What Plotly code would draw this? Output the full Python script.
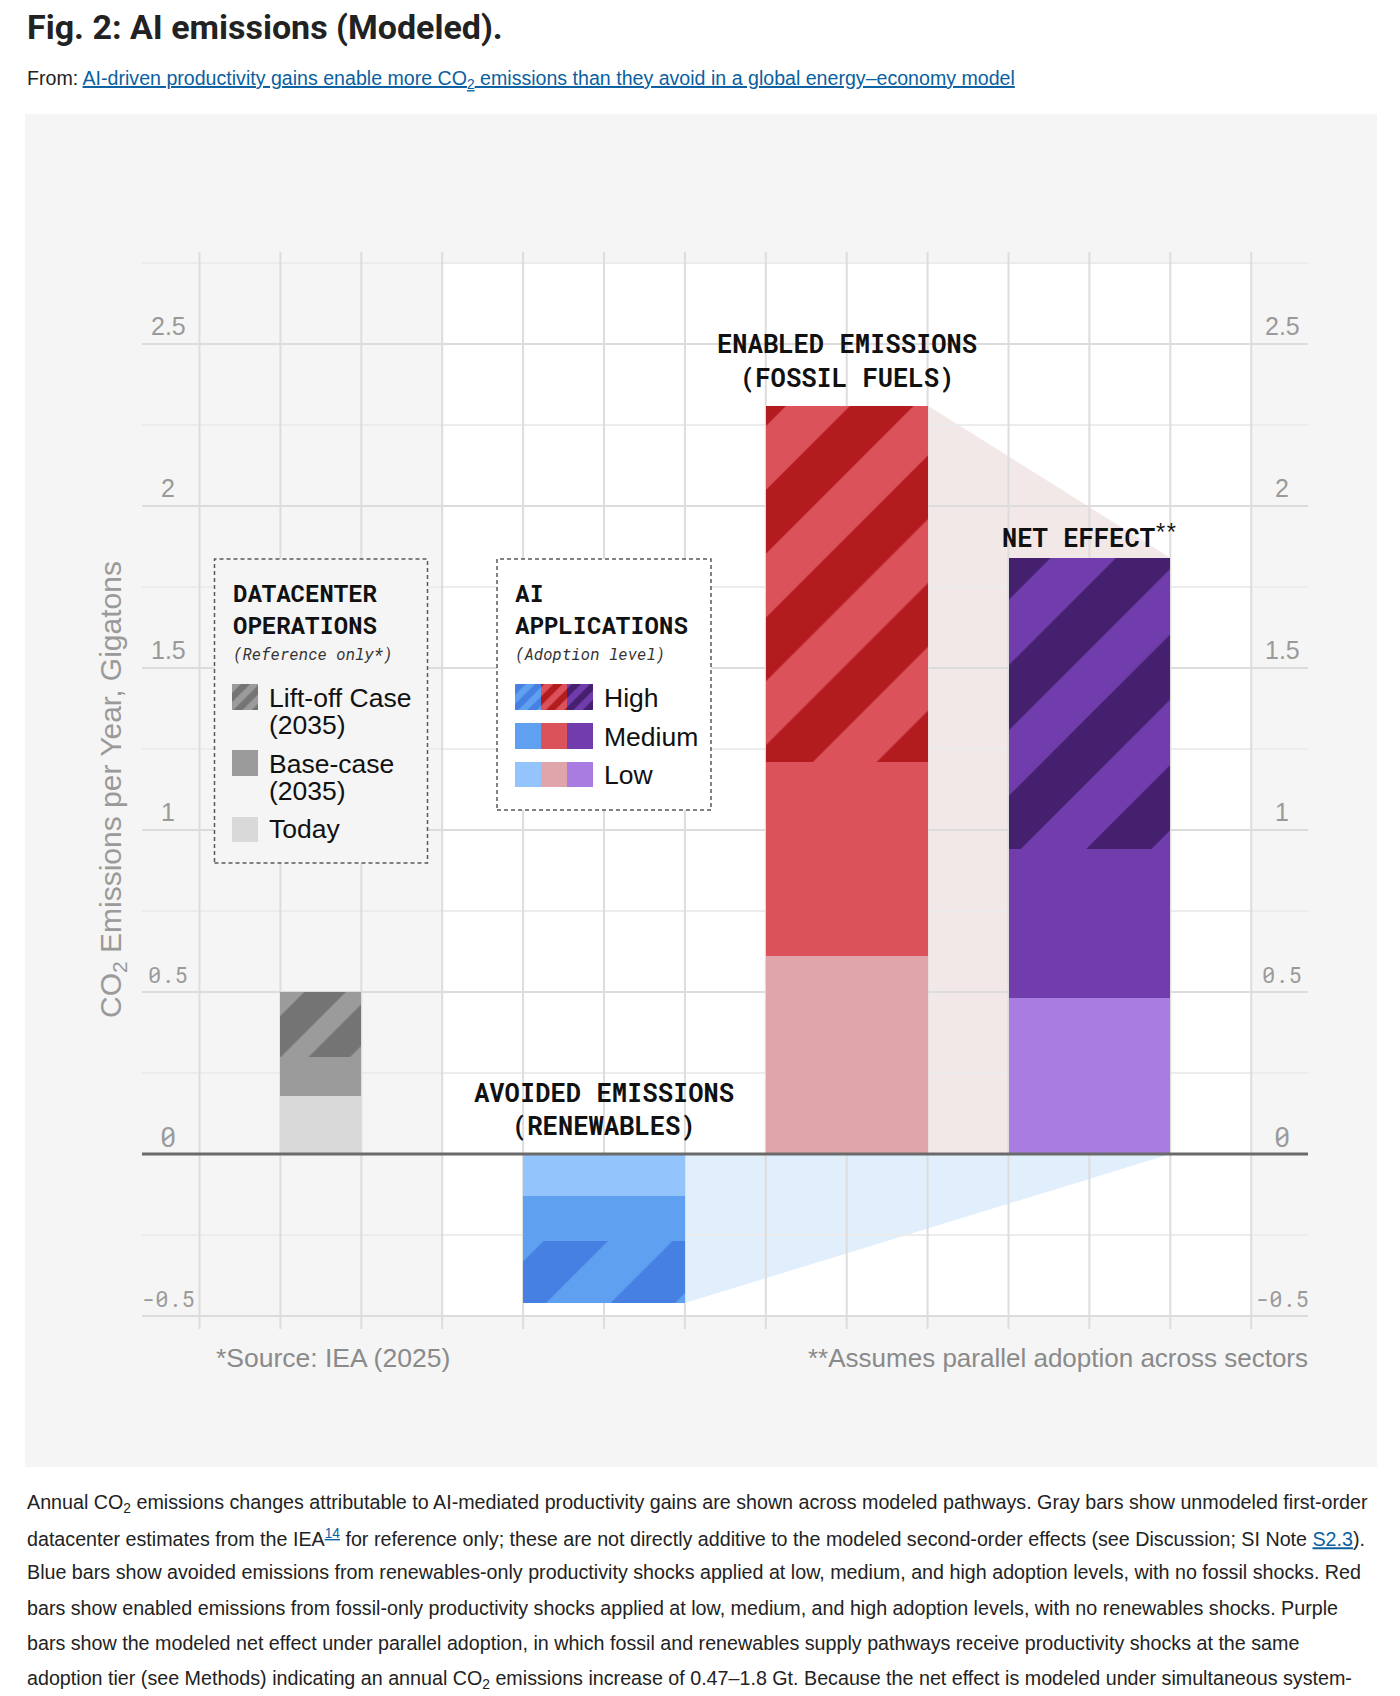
import plotly.graph_objects as go

# ---------------- data ----------------
adoption_levels = ["Low", "Medium", "High"]
datacenter_levels = ["Today", "Base-case (2035)", "Lift-off Case (2035)"]
datacenter_tops = [0.18, 0.30, 0.50]          # cumulative tops, Gt
avoided_renewables = [-0.13, -0.27, -0.46]    # cumulative, Gt
enabled_fossil = [0.61, 1.21, 2.31]           # cumulative, Gt
net_effect = [0.48, 0.94, 1.84]               # cumulative, Gt
y_ticks = [2.5, 2, 1.5, 1, 0.5, 0, -0.5]
y_tick_labels = ["2.5", "2", "1.5", "1", "0.5", "0", "-0.5"]

# ---------------- layout constants ----------------
W, H = 1400, 1696
PL, PT, PR, PB = 25, 114, 1377, 1467          # grey panel in page pixels
X0, XU = 199.5, 80.9                          # x=0 pixel, pixels per x unit
Y0, YU = 1154.0, 324.0                        # y=0 pixel, pixels per Gt

def dx(px):
    return (px - X0) / XU

def dy(py):
    return (Y0 - py) / YU

def ppx(px):
    return (px - PL) / (PR - PL)

def ppy(py):
    return (PB - py) / (PB - PT)

SANS = "Liberation Sans, Arial, Helvetica, sans-serif"
TITLE_FONT = "Roboto, Liberation Sans, Arial, sans-serif"
MONO = "Roboto Mono, DejaVu Sans Mono, monospace"

GROUPS = {
    "datacenter": dict(center=1.5, width=1.0, tops=datacenter_tops,
                       colors=["#d9d9d9", "#9b9b9b", "#9b9b9b"], fg="#747474", hs=49, sol=0.6),
    "renewables": dict(center=5.0, width=2.0, tops=avoided_renewables,
                       colors=["#93c4fb", "#60a0f0", "#60a0f0"], fg="#4680e2", hs=91.26, sol=0.5),
    "fossil": dict(center=8.0, width=2.0, tops=enabled_fossil,
                   colors=["#dfa5aa", "#dc525b", "#dc525b"], fg="#b21c1f", hs=90.25, sol=0.5),
    "net": dict(center=11.0, width=2.0, tops=net_effect,
                colors=["#a97ce1", "#713dad", "#713dad"], fg="#45206f", hs=92.37, sol=0.5),
}

fig = go.Figure()


def seg_bar(xc, width, base, height, color, hatch_fg=None, hsize=92, sol=0.5):
    if hatch_fg:
        pattern = dict(shape="/", fgcolor=hatch_fg, bgcolor=color, size=hsize,
                       solidity=sol, fillmode="replace")
    else:
        pattern = dict(shape="")
    fig.add_trace(go.Bar(
        x=[xc], y=[height], base=[base], width=[width],
        marker=dict(color=color, line=dict(width=0), pattern=pattern),
        hoverinfo="skip", showlegend=False,
    ))


# ---------------- main stacked bars ----------------
for g in GROUPS.values():
    prev = 0.0
    for i, top in enumerate(g["tops"]):
        seg_bar(g["center"], g["width"], prev, top - prev, g["colors"][i],
                g["fg"] if i == 2 else None, g["hs"], g["sol"])
        prev = top

# ---------------- shapes (background, wedges, grid, boxes) ----------------
shapes = []
# white inner region
shapes.append(dict(type="rect", xref="x", yref="y", x0=3, x1=13, y0=-0.5, y1=2.75,
                   fillcolor="white", line=dict(width=0), layer="below"))

fos, net, ren = GROUPS["fossil"], GROUPS["net"], GROUPS["renewables"]
fos_right = fos["center"] + fos["width"] / 2
net_right = net["center"] + net["width"] / 2
ren_right = ren["center"] + ren["width"] / 2
# connector wedges
shapes.append(dict(type="path", xref="x", yref="y", layer="below",
                   path=f"M {fos_right},{enabled_fossil[-1]} L {net_right},{net_effect[-1]} "
                        f"L {net_right},0 L {fos_right},0 Z",
                   fillcolor="#f3e8e8", line=dict(width=0)))
shapes.append(dict(type="path", xref="x", yref="y", layer="below",
                   path=f"M {ren_right},0 L {ren_right},{avoided_renewables[-1]} L {net_right},0 Z",
                   fillcolor="#e1eefb", line=dict(width=0)))

# horizontal grid
hx0, hx1 = dx(142), dx(1308)
k = 0
while k <= 13:
    yv = -0.5 + 0.25 * k
    if abs(yv) > 1e-9:
        major = (k % 2 == 0)
        shapes.append(dict(type="line", xref="x", yref="y", x0=hx0, x1=hx1, y0=yv, y1=yv,
                           line=dict(color="#dcdcdc" if major else "#ececec", width=2),
                           layer="below"))
    k += 1
# vertical grid
vy0, vy1 = dy(1329), dy(252)
for xv in range(0, 14):
    shapes.append(dict(type="line", xref="x", yref="y", x0=xv, x1=xv, y0=vy0, y1=vy1,
                       line=dict(color="#dddddd", width=2), layer="below"))

# legend boxes
box1 = (dx(214.5), dx(427.5), dy(863), dy(559))
box2 = (dx(497), dx(711), dy(810), dy(559))
for (bx0, bx1, by0, by1), fill in ((box1, "#f5f5f5"), (box2, "#ffffff")):
    shapes.append(dict(type="rect", xref="x", yref="y", x0=bx0, x1=bx1, y0=by0, y1=by1,
                       fillcolor=fill, line=dict(color="#5a5a5a", width=1.5, dash="4px,3px"),
                       layer="below"))

# zero line
shapes.append(dict(type="line", xref="x", yref="y", x0=hx0, x1=hx1, y0=0, y1=0,
                   line=dict(color="#6a6a6a", width=3), layer="above"))

# ---------------- legend swatches (as small bars) ----------------
sw_w = 26 / XU
# datacenter box: rows top->bottom Lift-off, Base, Today
dc_rows = [(684, 710), (750, 776), (817, 842)]
dc_cols = GROUPS["datacenter"]["colors"]
for j, (t, b) in enumerate(dc_rows):
    lvl = 2 - j
    seg_bar(dx(245), sw_w, dy(b), dy(t) - dy(b), dc_cols[lvl],
            GROUPS["datacenter"]["fg"] if lvl == 2 else None, 13, 0.5)
# AI applications box: rows High, Medium, Low ; cols blue, red, purple
ai_rows = [(684, 710), (723, 749), (762, 787)]
ai_cols_px = [527.5, 553.5, 579.5]
for j, (t, b) in enumerate(ai_rows):
    lvl = 2 - j
    for cpx, gname in zip(ai_cols_px, ["renewables", "fossil", "net"]):
        g = GROUPS[gname]
        seg_bar(dx(cpx), sw_w, dy(b), dy(t) - dy(b), g["colors"][lvl],
                g["fg"] if lvl == 2 else None, 13, 0.5)

# ---------------- annotations ----------------
ann = []

def A(text, x, y, size, font=SANS, color="#111111", xanchor="center", yanchor="middle",
      xref="x", yref="y", **kw):
    ann.append(dict(text=text, x=x, y=y, xref=xref, yref=yref, showarrow=False,
                    xanchor=xanchor, yanchor=yanchor,
                    font=dict(family=font, size=size, color=color), **kw))

# tick labels on both sides
for v, lab in zip(y_ticks, y_tick_labels):
    mono = "0" in lab
    size = 25 if not mono else (27 if lab == "0" else 22)
    for cx in (dx(168), dx(1282)):
        A(lab, cx, v, size, MONO if mono else SANS, "#9a9a9a", yshift=18)

# y-axis title
A("CO<sub>2</sub> Emissions per Year, Gigatons", dx(112), dy(790), 30, SANS, "#9a9a9a",
  textangle=-90)

# chart labels
A("<b>ENABLED EMISSIONS</b>", fos["center"], dy(343), 25.5, MONO, "#111111")
A("<b>(FOSSIL FUELS)</b>", fos["center"], dy(377), 25.5, MONO, "#111111")
A("<b>NET EFFECT</b><sup>**</sup>", net["center"], dy(535), 25.5, MONO, "#111111")
A("<b>AVOIDED EMISSIONS</b>", ren["center"], dy(1092), 25.5, MONO, "#111111")
A("<b>(RENEWABLES)</b>", ren["center"], dy(1125), 25.5, MONO, "#111111")

# box 1 text
A("<b>DATACENTER</b>", dx(231), dy(593), 24, MONO, xanchor="left")
A("<b>OPERATIONS</b>", dx(231), dy(625), 24, MONO, xanchor="left")
A("<i>(Reference only*)</i>", dx(231), dy(653), 16, MONO, "#333333", xanchor="left")
box1_text = [("Lift-off Case", 698), ("(2035)", 725), ("Base-case", 764), ("(2035)", 791), ("Today", 829)]
for t, py in box1_text:
    A(t, dx(267), dy(py), 26.5, SANS, xanchor="left")

# box 2 text
A("<b>AI</b>", dx(513), dy(593), 24, MONO, xanchor="left")
A("<b>APPLICATIONS</b>", dx(513), dy(625), 24, MONO, xanchor="left")
A("<i>(Adoption level)</i>", dx(513), dy(653), 16, MONO, "#333333", xanchor="left")
for lvl, py in zip(["High", "Medium", "Low"], [698, 737, 775]):
    A(lvl, dx(602), dy(py), 26.5, SANS, xanchor="left")

# footnotes
A("*Source: IEA (2025)", dx(214), dy(1358), 26.5, SANS, "#8a8a8a", xanchor="left")
A("**Assumes parallel adoption across sectors", dx(1310), dy(1358), 26, SANS, "#8a8a8a",
  xanchor="right")

# page title & source line
A("<b>Fig. 2: AI emissions (Modeled).</b>", ppx(25), ppy(27), 34, TITLE_FONT, "#222222",
  xanchor="left", xref="paper", yref="paper")
LINK = "#0a5fa0"
A("From: <span style='color:%s'><u>AI-driven productivity gains enable more CO<sub>2</sub> "
  "emissions than they avoid in a global energy–economy model</u></span>" % LINK,
  ppx(25), ppy(80), 19.6, SANS, "#222222", xanchor="left", xref="paper", yref="paper")

caption = [
    "Annual CO<sub>2</sub> emissions changes attributable to AI-mediated productivity gains are shown across modeled pathways. Gray bars show unmodeled first-order",
    "datacenter estimates from the IEA<sup><span style='color:%s'><u>14</u></span></sup> for reference only; these are not directly additive to the modeled second-order effects (see Discussion; SI Note <span style='color:%s'><u>S2.3</u></span>)." % (LINK, LINK),
    "Blue bars show avoided emissions from renewables-only productivity shocks applied at low, medium, and high adoption levels, with no fossil shocks. Red",
    "bars show enabled emissions from fossil-only productivity shocks applied at low, medium, and high adoption levels, with no renewables shocks. Purple",
    "bars show the modeled net effect under parallel adoption, in which fossil and renewables supply pathways receive productivity shocks at the same",
    "adoption tier (see Methods) indicating an annual CO<sub>2</sub> emissions increase of 0.47–1.8 Gt. Because the net effect is modeled under simultaneous system-",
]
cap_y = [1503, 1538, 1572, 1608, 1643, 1679]
for line, py in zip(caption, cap_y):
    A(line, ppx(25), ppy(py), 19.7, SANS, "#222222", xanchor="left", xref="paper", yref="paper")

fig.update_layout(
    width=W, height=H,
    margin=dict(l=PL, r=W - PR, t=PT, b=H - PB, pad=0),
    paper_bgcolor="white", plot_bgcolor="#f5f5f5",
    barmode="overlay", bargap=0,
    xaxis=dict(range=[dx(PL), dx(PR)], visible=False, fixedrange=True),
    yaxis=dict(range=[dy(PB), dy(PT)], visible=False, fixedrange=True),
    shapes=shapes, annotations=ann, showlegend=False,
)

fig.write_html("out.html", config={"displayModeBar": False},
               post_script="document.body.style.margin='0';")
